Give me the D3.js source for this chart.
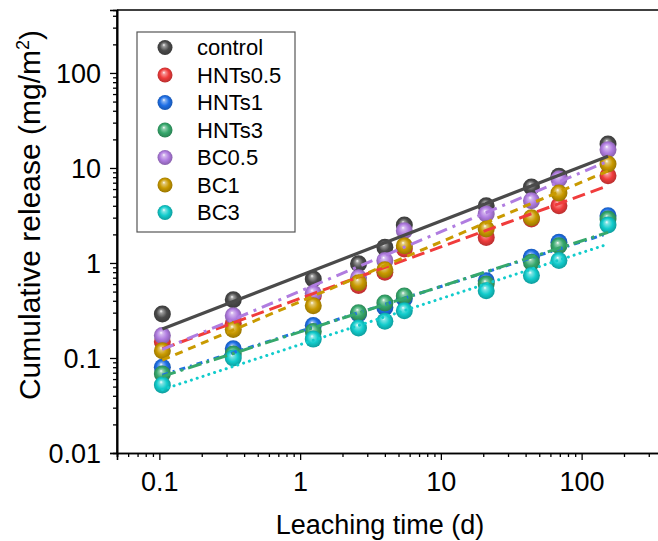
<!DOCTYPE html>
<html><head><meta charset="utf-8">
<script src="https://cdn.jsdelivr.net/npm/d3@7"></script>
<style>body{margin:0;background:#fff;overflow:hidden}svg{display:block}</style>
</head><body>
<script>
const times = [0.105, 0.335, 1.24, 2.6, 4.0, 5.5, 21, 44, 69, 154];
const seriesNames = ["control", "HNTs0.5", "HNTs1", "HNTs3", "BC0.5", "BC1", "BC3"];
const control = [0.29, 0.41, 0.68, 0.98, 1.46, 2.51, 4.0, 6.3, 8.2, 17.9];
const hnts05 = [0.148, 0.23, 0.45, 0.58, 0.80, 1.40, 1.86, 2.9, 4.0, 8.3];
const hnts1 = [0.080, 0.125, 0.22, 0.29, 0.34, 0.42, 0.65, 1.15, 1.65, 3.15];
const hnts3 = [0.068, 0.11, 0.19, 0.30, 0.38, 0.45, 0.60, 1.02, 1.52, 2.9];
const bc05 = [0.172, 0.279, 0.48, 0.70, 1.06, 2.19, 3.28, 4.53, 7.66, 15.6];
const bc1 = [0.119, 0.20, 0.355, 0.62, 0.85, 1.52, 2.28, 3.0, 5.46, 11.0];
const bc3 = [0.052, 0.10, 0.158, 0.207, 0.243, 0.315, 0.51, 0.74, 1.06, 2.51];
// fitted power-law lines: value at first and last time
const fitStart = [0.202, 0.125, 0.066, 0.064, 0.123, 0.095, 0.0465];
const fitEnd = [13.3, 6.5, 2.05, 2.1, 11.8, 9.3, 1.58];
const colors = ["#4a4a4a", "#f03c3c", "#1e6fe6", "#36a86c", "#b07ce0", "#c99a00", "#12cccc"];
const dashes = ["none", "13,6", "6,5,2,5", "14,5,3,5", "12,6,3,6", "8,6", "0.1,6"];
const xTicks = [0.1, 1, 10, 100];
const yTicks = [0.01, 0.1, 1, 10, 100];
const allSeries = [control, hnts05, hnts1, hnts3, bc05, bc1, bc3];

const W = 658, H = 541;
const FONT = "Liberation Sans, Arial, sans-serif";
const svg = d3.select("body").append("svg").attr("width", W).attr("height", H);
const x = d3.scaleLog().domain([0.05, 500]).range([117, 680]);
const y = d3.scaleLog().domain([0.01, 460]).range([453, 10]);

const defs = svg.append("defs");
colors.forEach((c, i) => {
  const g = defs.append("radialGradient").attr("id", "g" + i)
    .attr("cx", "50%").attr("cy", "50%").attr("r", "55%")
    .attr("fx", "42%").attr("fy", "32%");
  const base = d3.color(c);
  g.append("stop").attr("offset", "0%").attr("stop-color", "#ffffff");
  g.append("stop").attr("offset", "18%").attr("stop-color", d3.interpolateRgb(c, "#fff")(0.45));
  g.append("stop").attr("offset", "55%").attr("stop-color", c);
  g.append("stop").attr("offset", "100%").attr("stop-color", base.darker(0.9));
});

// frame top
svg.append("line").attr("x1", 117).attr("x2", W).attr("y1", 10).attr("y2", 10)
  .attr("stroke", "#000").attr("stroke-width", 1.6);

// axes
const minorX = [];
for (let e = -2; e <= 2; e++) for (let m = 1; m < 10; m++) { const v = m * Math.pow(10, e); if (v >= 0.05 && v <= 500) minorX.push(v); }
const minorY = [];
for (let e = -2; e <= 2; e++) for (let m = 1; m < 10; m++) { const v = m * Math.pow(10, e); if (v >= 0.01 && v <= 460) minorY.push(v); }

svg.append("g").attr("transform", "translate(0,453)")
  .call(d3.axisBottom(x).tickValues(minorX.filter(v => !xTicks.includes(v))).tickSize(4).tickFormat(""));
svg.append("g").attr("transform", "translate(0,453)")
  .call(d3.axisBottom(x).tickValues(xTicks).tickSize(7).tickPadding(12).tickFormat(d3.format("~g")));
svg.append("g").attr("transform", "translate(117,0)")
  .call(d3.axisLeft(y).tickValues(minorY.filter(v => !yTicks.includes(v))).tickSize(4).tickFormat(""));
const yMaj = svg.append("g").attr("transform", "translate(117,0)")
  .call(d3.axisLeft(y).tickValues(yTicks).tickSize(7).tickPadding(9).tickFormat(d3.format("~g")));
svg.selectAll(".domain").attr("stroke", "#000").attr("stroke-width", 1.6);
svg.selectAll(".tick line").attr("stroke", "#000").attr("stroke-width", 1.3);
svg.selectAll(".tick text").attr("font-family", FONT).attr("font-size", 27).attr("fill", "#000");
yMaj.selectAll(".tick text").attr("dy", "0.36em");
svg.append("line").attr("x1", 117).attr("x2", 117).attr("y1", 10).attr("y2", 453).attr("stroke", "#000").attr("stroke-width", 1.6);

// points
allSeries.forEach((s, i) => {
  svg.append("g").selectAll("circle").data(s).join("circle")
    .attr("cx", (d, j) => x(times[j])).attr("cy", d => y(d)).attr("r", 8.5)
    .attr("fill", "url(#g" + i + ")");
});
// fit lines
allSeries.forEach((s, i) => {
  const pts = [[times[0], fitStart[i]], [times[times.length - 1], fitEnd[i]]];
  svg.append("path").datum(pts)
    .attr("d", d3.line().x(d => x(d[0])).y(d => y(d[1])))
    .attr("fill", "none").attr("stroke", colors[i]).attr("stroke-width", i === 0 ? 3.2 : 3)
    .attr("stroke-dasharray", dashes[i]).attr("stroke-linecap", i === 6 ? "round" : "butt");
});

// legend
const lg = svg.append("g");
lg.append("rect").attr("x", 137).attr("y", 32).attr("width", 158).attr("height", 200)
  .attr("fill", "#fff").attr("stroke", "#555").attr("stroke-width", 1.2);
const ly = d3.scalePoint().domain(seriesNames).range([47.5, 212.5]);
seriesNames.forEach((n, i) => {
  lg.append("circle").attr("cx", 165).attr("cy", ly(n)).attr("r", 7.5).attr("fill", "url(#g" + i + ")");
  lg.append("text").attr("x", 197).attr("y", ly(n)).attr("dy", "0.36em")
    .attr("font-family", FONT).attr("font-size", 22).text(n);
});

// titles
svg.append("text").attr("x", 380).attr("y", 534).attr("text-anchor", "middle")
  .attr("font-family", FONT).attr("font-size", 27)
  .text("Leaching time (d)");
const yt = svg.append("text").attr("transform", "translate(40,215) rotate(-90)").attr("text-anchor", "middle")
  .attr("font-family", FONT).attr("font-size", 30);
yt.append("tspan").text("Cumulative release (mg/m");
yt.append("tspan").attr("font-size", 18).attr("dy", "-0.6em").text("2");
yt.append("tspan").attr("dy", "0.38em").text(")");
</script>
</body></html>
